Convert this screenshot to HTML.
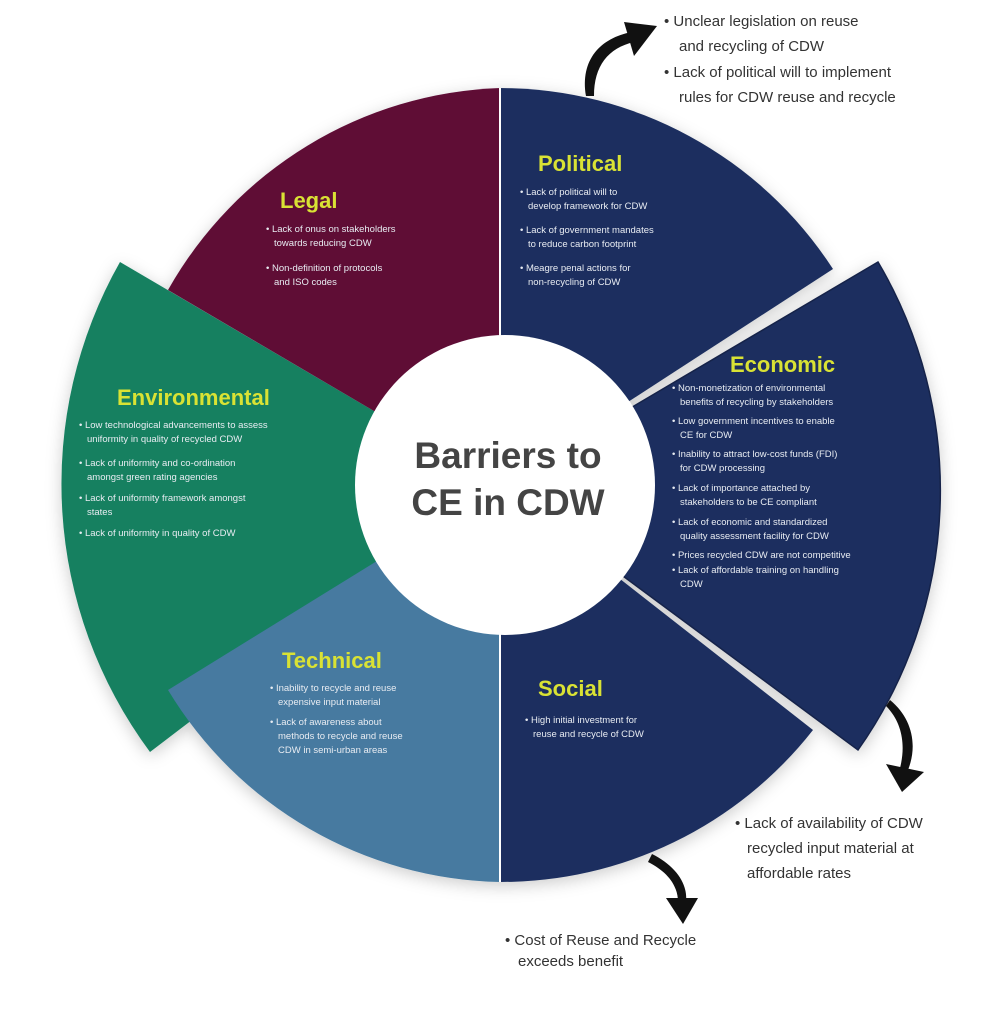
<!DOCTYPE html>
<html><head><meta charset="utf-8"><style>
html,body{margin:0;padding:0;background:#fff;}
svg{display:block;}
text{font-family:"Liberation Sans",sans-serif;}
.t{font-weight:bold;font-size:22px;fill:#d9e234;}
.b{font-size:9.5px;fill:#e8ecf2;}
.o{font-size:15px;fill:#333;}
</style></head><body>
<svg width="1003" height="1024" viewBox="0 0 1003 1024" xmlns="http://www.w3.org/2000/svg">
<defs>
<filter id="sh" x="-20%" y="-20%" width="140%" height="140%"><feDropShadow dx="0" dy="4" stdDeviation="8" flood-color="#000" flood-opacity="0.2"/></filter>
</defs>
<g filter="url(#sh)">
<path d="M500,485 L500,88 A397,397 0 0 1 833,269 Z" fill="#1b2f5e"/>
<path d="M500,485 L813,730 A397,397 0 0 1 500,882 Z" fill="#1b2f5e"/>
<path d="M500,485 L878,262 A450,450 0 0 1 858,750 Z" fill="#1b2f5e" stroke="#142449" stroke-width="1.5"/>
<path d="M500,485 L150,752 A450,450 0 0 1 120,262 Z" fill="#138060"/>
<path d="M500,485 L500,882 A397,397 0 0 1 168,690 Z" fill="#467aa0"/>
<path d="M500,485 L168,290 A397,397 0 0 1 500,88 Z" fill="#5e0a36"/>
<circle cx="505" cy="485" r="150" fill="#fff"/>
</g>
<line x1="500" y1="88" x2="500" y2="340" stroke="#fff" stroke-width="2"/>
<line x1="500" y1="630" x2="500" y2="882" stroke="#fff" stroke-width="2"/>
<text x="508" y="468" text-anchor="middle" font-size="37" font-weight="bold" fill="#444">Barriers to</text>
<text x="508" y="515" text-anchor="middle" font-size="37" font-weight="bold" fill="#444">CE in CDW</text>

<text class="t" x="538" y="171">Political</text>
<g class="b"><text x="520" y="195">• Lack of political will to</text><text x="528" y="209">develop framework for CDW</text>
<text x="520" y="233">• Lack of government mandates</text><text x="528" y="247">to reduce carbon footprint</text>
<text x="520" y="271">• Meagre penal actions for</text><text x="528" y="285">non-recycling of CDW</text></g>

<text class="t" x="280" y="208">Legal</text>
<g class="b"><text x="266" y="232">• Lack of onus on stakeholders</text><text x="274" y="246">towards reducing CDW</text>
<text x="266" y="271">• Non-definition of protocols</text><text x="274" y="285">and ISO codes</text></g>

<text class="t" x="117" y="405">Environmental</text>
<g class="b"><text x="79" y="428">• Low technological advancements to assess</text><text x="87" y="442">uniformity in quality of recycled CDW</text>
<text x="79" y="466">• Lack of uniformity and co-ordination</text><text x="87" y="480">amongst green rating agencies</text>
<text x="79" y="501">• Lack of uniformity framework amongst</text><text x="87" y="515">states</text>
<text x="79" y="536">• Lack of uniformity in quality of CDW</text></g>

<text class="t" x="730" y="372">Economic</text>
<g class="b"><text x="672" y="391">• Non-monetization of environmental</text><text x="680" y="405">benefits of recycling by stakeholders</text>
<text x="672" y="424">• Low government incentives to enable</text><text x="680" y="438">CE for CDW</text>
<text x="672" y="457">• Inability to attract low-cost funds (FDI)</text><text x="680" y="471">for CDW processing</text>
<text x="672" y="491">• Lack of importance attached by</text><text x="680" y="505">stakeholders to be CE compliant</text>
<text x="672" y="525">• Lack of economic and standardized</text><text x="680" y="539">quality assessment facility for CDW</text>
<text x="672" y="558">• Prices recycled CDW are not competitive</text>
<text x="672" y="573">• Lack of affordable training on handling</text><text x="680" y="587">CDW</text></g>

<text class="t" x="282" y="668">Technical</text>
<g class="b"><text x="270" y="691">• Inability to recycle and reuse</text><text x="278" y="705">expensive input material</text>
<text x="270" y="725">• Lack of awareness about</text><text x="278" y="739">methods to recycle and reuse</text><text x="278" y="753">CDW in semi-urban areas</text></g>

<text class="t" x="538" y="696">Social</text>
<g class="b"><text x="525" y="723">• High initial investment for</text><text x="533" y="737">reuse and recycle of CDW</text></g>

<g class="o"><text x="664" y="26">• Unclear legislation on reuse</text><text x="679" y="51">and recycling of CDW</text>
<text x="664" y="77">• Lack of political will to implement</text><text x="679" y="102">rules for CDW reuse and recycle</text>
<text x="735" y="828">• Lack of availability of CDW</text><text x="747" y="853">recycled input material at</text><text x="747" y="878">affordable rates</text>
<text x="505" y="945">• Cost of Reuse and Recycle</text><text x="518" y="966">exceeds benefit</text></g>

<g fill="#111">
<path d="M586,96 C580,60 600,38 632,32 L634,42 C608,48 594,66 594,96 Z"/>
<polygon points="624,22 657,26 634,56"/>
<path d="M890,700 C912,718 918,745 908,770 L900,768 C906,745 902,722 886,706 Z"/>
<polygon points="886,764 924,772 902,792"/>
<path d="M652,854 C676,866 688,884 686,902 L678,902 C678,886 668,872 648,862 Z"/>
<polygon points="666,898 698,898 683,924"/>
</g>
</svg>
</body></html>
